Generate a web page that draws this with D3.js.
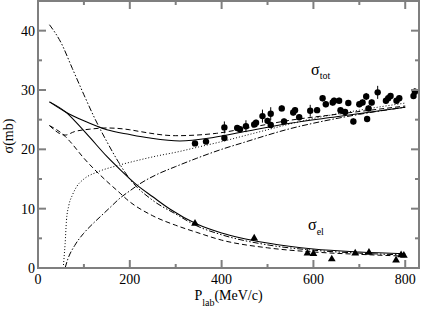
<!DOCTYPE html>
<html>
<head>
<meta charset="utf-8">
<script src="https://cdn.jsdelivr.net/npm/d3@7"></script>
<style>
  body { margin: 0; background: #fff; }
</style>
</head>
<body>
<div id="chart"></div>
<script>
var w = 421, h = 309;
var margin = { left: 38, right: 2, top: 1, bottom: 41 };
var serif = "'Liberation Serif', 'Times New Roman', Times, 'DejaVu Serif', serif";

// x ticks and y ticks
var xTicks = [0, 200, 400, 600, 800];
var xMinor = [100, 300, 500, 700];
var yTicks = [0, 10, 20, 30, 40];
var yMinor = [5, 15, 25, 35];

// curves, [P_lab, sigma]
var solidTot = [[25, 28], [60, 26.3], [100, 24.8], [150, 23.3], [200, 22.5], [244, 21.9], [309, 21.4],
  [382, 22.0], [450, 23.0], [549, 24.4], [650, 25.5], [800, 27.1]];
var solidEl = [[25, 28], [60, 26.3], [80, 24.8], [113, 22.0], [150, 18.8], [180, 16.5], [215, 14.0],
  [250, 12.0], [288, 9.9], [346, 7.4], [400, 5.9], [440, 5.1], [500, 4.2], [600, 3.2], [700, 2.7], [800, 2.4]];
var dashTot = [[25, 24], [59, 22.4], [80, 23.0], [113, 23.4], [150, 23.6], [200, 23.3], [222, 23.0],
  [300, 22.3], [389, 22.7], [450, 23.5], [549, 24.9], [650, 25.9], [800, 27.3]];
var dashEl = [[25, 24], [59, 22.2], [70, 21.3], [100, 18.5], [150, 14.6], [179, 12.6], [193, 11.6],
  [250, 8.8], [300, 7.2], [346, 6.0], [400, 4.7], [500, 3.4], [600, 2.7], [700, 2.3], [800, 2.0]];
var dotInel = [[55, 0], [57, 2], [59, 4], [62, 8], [67, 10.5], [75, 12.3], [85, 13.8], [100, 15.0],
  [130, 16.2], [170, 17.2], [210, 18.0], [260, 18.9], [300, 19.5], [350, 20.4], [400, 21.3],
  [450, 22.3], [500, 23.3], [550, 24.3], [600, 25.2], [700, 26.6], [800, 27.8]];
var dashDotInel = [[59, 0], [65, 1.5], [80, 3.8], [99, 5.8], [120, 7.5], [135, 8.6], [157, 10.2],
  [179, 11.8], [200, 13.0], [222, 14.2], [260, 15.8], [300, 17.1], [346, 18.5], [400, 20.0],
  [450, 21.2], [500, 22.4], [550, 23.5], [600, 24.4], [700, 25.9], [800, 27.1]];
var dashDotEl = [[25, 41], [50, 38.0], [75, 33.6], [100, 29.2], [125, 25.0], [150, 21.3], [175, 17.9],
  [200, 15.0], [250, 11.4], [300, 9.1], [346, 7.1], [400, 5.6], [500, 3.9], [600, 3.0], [700, 2.5], [800, 2.2]];

// measured points
var totP = [342, 366, 406, 406, 434, 440, 453, 471, 475, 489, 500, 507, 507, 531, 536, 556, 560, 569,
  593, 608, 620, 627, 642, 645, 656, 659, 669, 676, 687, 700, 707, 715, 717, 720, 727, 740, 758,
  763, 768, 781, 787, 818, 821];
var totS = [21.0, 21.3, 21.9, 23.7, 23.6, 23.4, 23.9, 24.2, 24.5, 25.6, 24.8, 26.0, 24.1, 26.9, 24.7,
  26.2, 26.6, 25.4, 26.5, 26.6, 28.6, 27.6, 27.9, 28.2, 28.2, 26.6, 26.3, 27.8, 24.7, 27.6, 27.9,
  28.9, 25.1, 26.9, 27.9, 29.6, 28.2, 28.6, 29.0, 28.2, 28.6, 29.0, 29.7];
var totErr = [0.4, 0.4, 0.5, 1.0, 0.5, 0.5, 1.0, 0.5, 0.5, 1.1, 0.5, 1.1, 0.5, 0.5, 0.5, 0.5, 0.5, 0.5,
  1.0, 0.5, 0.5, 0.5, 0.5, 0.5, 0.5, 0.5, 0.5, 0.5, 0.5, 0.5, 0.5, 0.6, 0.5, 0.5, 0.5, 1.1, 0.5,
  0.5, 0.5, 0.5, 0.5, 0.5, 0.6];
var elP = [342, 471, 587, 600, 640, 691, 721, 780, 791, 797];
var elS = [7.5, 5.0, 2.5, 2.4, 1.5, 2.5, 2.6, 1.3, 2.2, 2.1];

var x = d3.scaleLinear().domain([0, 830]).range([margin.left, w - margin.right]);
var y = d3.scaleLinear().domain([0, 45]).range([h - margin.bottom, margin.top]);

var svg = d3.select('#chart').append('svg')
  .attr('width', w).attr('height', h)
  .attr('font-family', serif)
  .style('font-family', serif);

svg.append('clipPath').attr('id', 'clip')
  .append('rect')
  .attr('x', x(0)).attr('y', y(45))
  .attr('width', x(830) - x(0)).attr('height', y(0) - y(45));

var line = d3.line()
  .x(function (d) { return x(d[0]); })
  .y(function (d) { return y(d[1]); })
  .curve(d3.curveMonotoneX);

var curves = [
  { data: solidTot, dash: null, sw: 1.1 },
  { data: solidEl, dash: null, sw: 1.1 },
  { data: dashTot, dash: '5,3', sw: 1 },
  { data: dashEl, dash: '5,3', sw: 1 },
  { data: dotInel, dash: '1,2', sw: 1 },
  { data: dashDotInel, dash: '6,2,1.5,2', sw: 1 },
  { data: dashDotEl, dash: '6,2,1.5,2,1.5,2', sw: 1 }
];

var plot = svg.append('g').attr('clip-path', 'url(#clip)');
plot.selectAll('path.curve')
  .data(curves)
  .enter()
  .append('path')
  .attr('class', 'curve')
  .attr('d', function (d) { return line(d.data); })
  .attr('fill', 'none')
  .attr('stroke', '#000')
  .attr('stroke-width', function (d) { return d.sw; })
  .attr('stroke-dasharray', function (d) { return d.dash; });

// error bars + circles for sigma_tot
plot.selectAll('line.err')
  .data(totP)
  .enter()
  .append('line')
  .attr('x1', function (d) { return x(d); })
  .attr('x2', function (d) { return x(d); })
  .attr('y1', function (d, i) { return y(totS[i] - totErr[i]); })
  .attr('y2', function (d, i) { return y(totS[i] + totErr[i]); })
  .attr('stroke', '#000')
  .attr('stroke-width', 1);

plot.selectAll('circle.tot')
  .data(totP)
  .enter()
  .append('circle')
  .attr('cx', function (d) { return x(d); })
  .attr('cy', function (d, i) { return y(totS[i]); })
  .attr('r', 3.2)
  .attr('fill', '#000');

// triangles for sigma_el
var tri = d3.symbol().type(d3.symbolTriangle).size(26);
plot.selectAll('path.el')
  .data(elP)
  .enter()
  .append('path')
  .attr('d', tri)
  .attr('transform', function (d, i) { return 'translate(' + x(d) + ',' + y(elS[i]) + ')'; })
  .attr('fill', '#000');

// frame and ticks
var axisColor = '#7f7f7f';
svg.append('rect')
  .attr('x', x(0)).attr('y', y(45))
  .attr('width', x(830) - x(0)).attr('height', y(0) - y(45))
  .attr('fill', 'none')
  .attr('stroke', axisColor)
  .attr('stroke-width', 2);

function tickSet(vals, len) {
  vals.forEach(function (v) {
    svg.append('line')
      .attr('x1', x(v)).attr('x2', x(v))
      .attr('y1', y(0)).attr('y2', y(0) - len)
      .attr('stroke', axisColor).attr('stroke-width', 2);
    svg.append('line')
      .attr('x1', x(v)).attr('x2', x(v))
      .attr('y1', y(45)).attr('y2', y(45) + len)
      .attr('stroke', axisColor).attr('stroke-width', 2);
  });
}
function ytickSet(vals, len) {
  vals.forEach(function (v) {
    svg.append('line')
      .attr('x1', x(0)).attr('x2', x(0) + len)
      .attr('y1', y(v)).attr('y2', y(v))
      .attr('stroke', axisColor).attr('stroke-width', 2);
    svg.append('line')
      .attr('x1', x(830)).attr('x2', x(830) - len)
      .attr('y1', y(v)).attr('y2', y(v))
      .attr('stroke', axisColor).attr('stroke-width', 2);
  });
}
tickSet(xTicks, 8);
tickSet(xMinor, 4);
ytickSet(yTicks, 8);
ytickSet(yMinor, 4);

// tick labels
svg.selectAll('text.xl').data(xTicks).enter().append('text')
  .attr('x', function (d) { return x(d); })
  .attr('y', y(0) + 16)
  .attr('text-anchor', 'middle')
  .style('font-size', '14px')
  .text(function (d) { return d; });

svg.selectAll('text.yl').data(yTicks).enter().append('text')
  .attr('x', x(0) - 3)
  .attr('y', function (d) { return y(d) + 5; })
  .attr('text-anchor', 'end')
  .style('font-size', '14px')
  .text(function (d) { return d; });

// axis titles
var xt = svg.append('text')
  .attr('x', x(0) + (x(830) - x(0)) / 2)
  .attr('y', 300)
  .attr('text-anchor', 'middle')
  .style('font-size', '14px');
xt.append('tspan').text('P');
xt.append('tspan').attr('dy', 6).style('font-size', '10px').text('lab');
xt.append('tspan').attr('dy', -6).text('(MeV/c)');

svg.append('text')
  .attr('transform', 'translate(13,136) rotate(-90)')
  .attr('text-anchor', 'middle')
  .style('font-size', '14px')
  .text('σ(mb)');

// curve labels
var lt = svg.append('text').attr('x', 311).attr('y', 75).style('font-size', '16px');
lt.append('tspan').text('σ');
lt.append('tspan').attr('dy', 4).style('font-size', '10px').text('tot');

var le = svg.append('text').attr('x', 308).attr('y', 230).style('font-size', '16px');
le.append('tspan').text('σ');
le.append('tspan').attr('dy', 5).style('font-size', '10px').text('el');
</script>
</body>
</html>
